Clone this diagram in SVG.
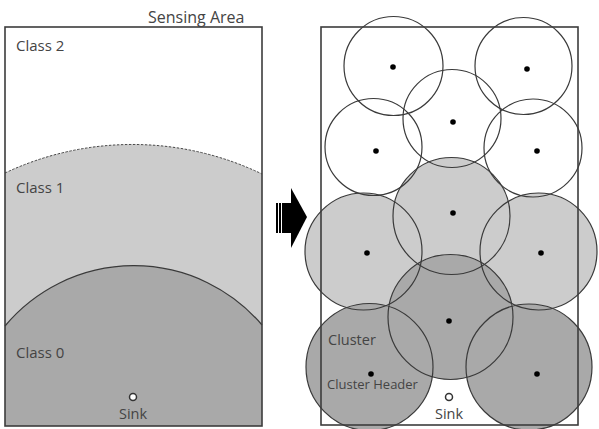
<svg xmlns="http://www.w3.org/2000/svg" width="599" height="429" viewBox="0 0 599 429">
<style>
text{font-family:"Open Sans","Noto Sans",sans-serif;fill:#444}
.lbl{font-size:15px}
.ttl{font-size:16px}
.sm{font-size:14.5px}
.sm2{font-size:13px}
.frame{fill:none;stroke:#3c3c3c;stroke-width:1.6}
.ol{fill:none;stroke:#3a3a3a;stroke-width:1.2}
.l1{fill:#cccccc}
.l0{fill:#a9a9a9}
.dot{fill:#000}
.sink{fill:#fff;stroke:#333;stroke-width:1.5}
</style>
<rect width="599" height="429" fill="#fff"/>
<g id="left-panel">
  <path class="l1" d="M5,173 A299,299 0 0 1 262,174 L262,426 L5,426 Z"/>
  <path d="M5,173 A299,299 0 0 1 262,174" fill="none" stroke="#444" stroke-width="1" stroke-dasharray="2.5,1.5"/>
  <path class="l0" d="M5,326 A168,168 0 0 1 262,325 L262,426 L5,426 Z"/>
  <path d="M5,326 A168,168 0 0 1 262,325" fill="none" stroke="#3a3a3a" stroke-width="1.2"/>
  <rect class="frame" x="5" y="27" width="257" height="399"/>
  <text class="ttl" x="148" y="23">Sensing Area</text>
  <text class="lbl" x="16" y="51">Class 2</text>
  <text class="lbl" x="16" y="193">Class 1</text>
  <text class="lbl" x="16" y="358">Class 0</text>
  <circle class="sink" cx="133" cy="397" r="3.5"/>
  <text class="sm" x="133" y="419" text-anchor="middle">Sink</text>
</g>
<g id="arrow">
  <rect x="276" y="203" width="2" height="30" fill="#000"/>
  <rect x="279" y="203" width="2" height="30" fill="#000"/>
  <rect x="282" y="203" width="11" height="30" fill="#000"/>
  <polygon points="291,188 307,217 291,248" fill="#000"/>
</g>
<g id="right-panel">
  <g id="fills">
    <circle class="l1" cx="451.5" cy="216" r="58.5"/>
    <circle class="l1" cx="363.5" cy="251.5" r="58.5"/>
    <circle class="l1" cx="538.5" cy="251.5" r="58.5"/>
    <circle class="l0" cx="450.5" cy="317" r="62.5"/>
    <circle class="l0" cx="369.5" cy="367" r="63.5"/>
    <circle class="l0" cx="529" cy="367" r="63"/>
  </g>
  <g id="c1"><circle class="ol" cx="393.5" cy="66" r="49.5"/><circle class="dot" cx="393" cy="67" r="2.8"/></g>
  <g id="c2"><circle class="ol" cx="523.5" cy="66" r="48.5"/><circle class="dot" cx="527" cy="69" r="2.8"/></g>
  <g id="c3"><circle class="ol" cx="452" cy="118.5" r="49"/><circle class="dot" cx="453" cy="122" r="2.8"/></g>
  <g id="c4"><circle class="ol" cx="373.5" cy="147" r="48.5"/><circle class="dot" cx="376" cy="151" r="2.8"/></g>
  <g id="c5"><circle class="ol" cx="533" cy="148" r="49"/><circle class="dot" cx="537" cy="151" r="2.8"/></g>
  <g id="c6"><circle class="ol" cx="451.5" cy="216" r="58.5"/><circle class="dot" cx="453" cy="213" r="2.8"/></g>
  <g id="c7"><circle class="ol" cx="363.5" cy="251.5" r="58.5"/><circle class="dot" cx="367" cy="253" r="2.8"/></g>
  <g id="c8"><circle class="ol" cx="538.5" cy="251.5" r="58.5"/><circle class="dot" cx="541" cy="253" r="2.8"/></g>
  <g id="c9"><circle class="ol" cx="450.5" cy="317" r="62.5"/><circle class="dot" cx="449" cy="321" r="2.8"/></g>
  <g id="c10"><circle class="ol" cx="369.5" cy="367" r="63.5"/><circle class="dot" cx="371" cy="374" r="2.8"/></g>
  <g id="c11"><circle class="ol" cx="529" cy="367" r="63"/><circle class="dot" cx="537" cy="374" r="2.8"/></g>
  <rect class="frame" x="321" y="27" width="257" height="398"/>
  <text class="sm" x="328" y="345">Cluster</text>
  <text class="sm2" x="327" y="389">Cluster Header</text>
  <circle class="sink" cx="449" cy="397" r="3.5"/>
  <text class="sm" x="449" y="419" text-anchor="middle">Sink</text>
</g>
</svg>
